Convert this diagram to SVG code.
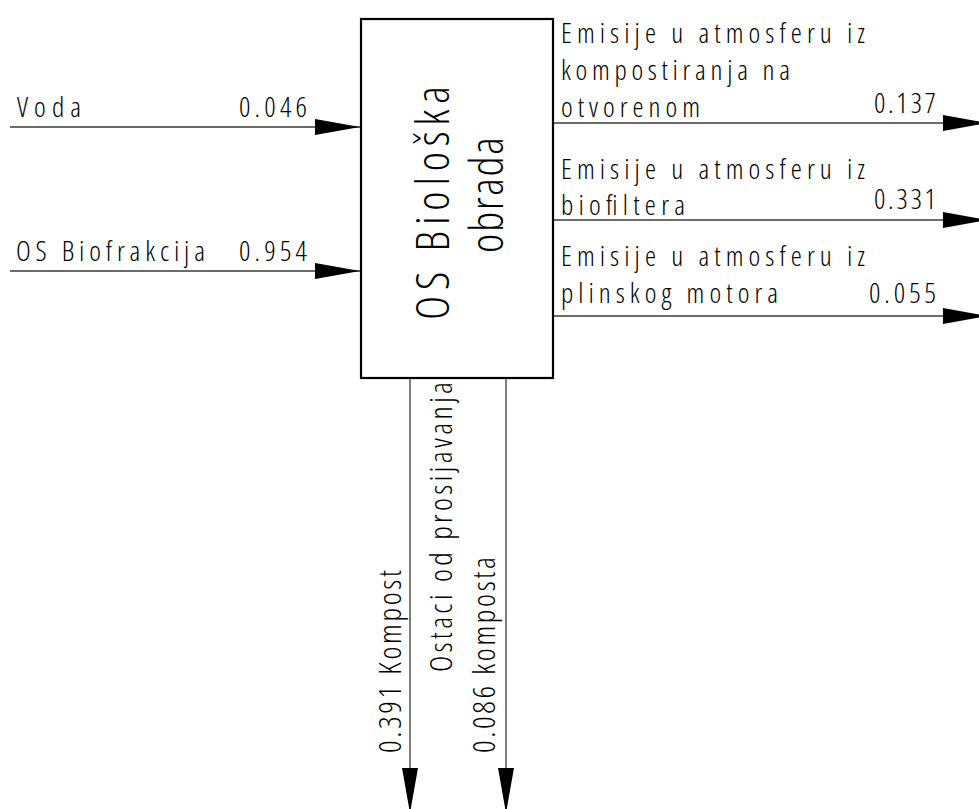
<svg xmlns="http://www.w3.org/2000/svg" width="979" height="809" viewBox="0 0 979 809">
<style>
.bg{fill:#ffffff}
.box{fill:#ffffff;stroke:#000000;stroke-width:2.2}
.flow{stroke:#3a3a3a;stroke-width:1.3;fill:none;marker-end:url(#ah)}
.t{font-family:'Open Sans','DejaVu Sans Condensed',sans-serif;font-stretch:85%;font-weight:350;fill:#000000;font-size:28px}
.tb{font-size:31px}
.tbox{font-size:46px;text-anchor:middle}
.end{text-anchor:end}
</style>
<defs>
<marker id="ah" markerUnits="userSpaceOnUse" markerWidth="45" markerHeight="16" refX="45" refY="8" orient="auto">
<path d="M0,0 L45,8 L0,16 Z" fill="#000000"/>
</marker>
</defs>
<rect class="bg" x="0" y="0" width="979" height="809"/>
<g id="connectors">
<line class="flow" x1="10" y1="127" x2="360" y2="127"/>
<line class="flow" x1="10" y1="271" x2="360" y2="271"/>
<line class="flow" x1="554" y1="123" x2="988" y2="123"/>
<line class="flow" x1="554" y1="220" x2="988" y2="220"/>
<line class="flow" x1="554" y1="316" x2="988" y2="316"/>
<line class="flow" x1="410" y1="379" x2="410" y2="813"/>
<line class="flow" x1="506" y1="379" x2="506" y2="813"/>
</g>
<g id="labels" class="t">
<text x="17" y="117" textLength="64" lengthAdjust="spacing">Voda</text>
<text class="end" x="307" y="117" textLength="68" lengthAdjust="spacing">0.046</text>
<text x="16" y="261" textLength="189" lengthAdjust="spacing">OS Biofrakcija</text>
<text class="end" x="307" y="261" textLength="68" lengthAdjust="spacing">0.954</text>
<text x="561" y="43" textLength="304" lengthAdjust="spacing">Emisije u atmosferu iz</text>
<text x="561" y="80" textLength="229" lengthAdjust="spacing">kompostiranja na</text>
<text x="561" y="117" textLength="139" lengthAdjust="spacing">otvorenom</text>
<text class="end" x="936" y="113" textLength="62" lengthAdjust="spacing">0.137</text>
<text x="561" y="179" textLength="304" lengthAdjust="spacing">Emisije u atmosferu iz</text>
<text x="561" y="215" textLength="124" lengthAdjust="spacing">biofiltera</text>
<text class="end" x="936" y="209" textLength="62" lengthAdjust="spacing">0.331</text>
<text x="561" y="266" textLength="304" lengthAdjust="spacing">Emisije u atmosferu iz</text>
<text x="561" y="303" textLength="217" lengthAdjust="spacing">plinskog motora</text>
<text class="end" x="936" y="303" textLength="67" lengthAdjust="spacing">0.055</text>
<text class="tb" transform="translate(401,753) rotate(-90)" textLength="183" lengthAdjust="spacing">0.391 Kompost</text>
<text class="tb" transform="translate(452,672) rotate(-90)" textLength="290" lengthAdjust="spacing">Ostaci od prosijavanja</text>
<text class="tb" transform="translate(495,753) rotate(-90)" textLength="196" lengthAdjust="spacing">0.086 komposta</text>
</g>
<g id="node-os-bioloska-obrada">
<rect class="box" x="361" y="19" width="192" height="359"/>
<text class="t tbox" transform="translate(449,203) rotate(-90)" textLength="234" lengthAdjust="spacing">OS Biološka</text>
<text class="t tbox" transform="translate(503,195) rotate(-90)" textLength="116" lengthAdjust="spacing">obrada</text>
</g>
</svg>
